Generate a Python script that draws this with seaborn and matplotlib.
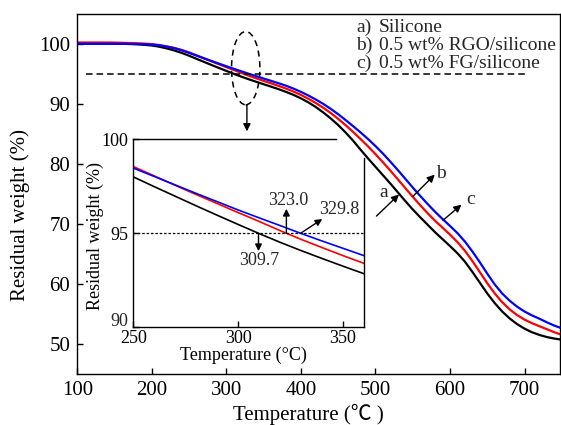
import matplotlib
matplotlib.use("Agg")
import matplotlib.pyplot as plt
from matplotlib.patches import Ellipse
import seaborn as sns
import pandas as pd

# Thermogravimetric curves (temperature in °C, residual weight in %)
temperature = [100, 110, 120, 130, 140, 150, 160, 170, 180, 190,
               200, 210, 220, 230, 240, 250, 260, 270, 280, 290,
               300, 310, 320, 330, 340, 350, 360, 370, 380, 390,
               400, 410, 420, 430, 440, 450, 460, 470, 480, 490,
               500, 510, 520, 530, 540, 550, 560, 570, 580, 590,
               600, 610, 620, 630, 640, 650, 660, 670, 680, 690,
               700, 710, 720, 730, 740, 748]
silicone = [100.0, 100.0, 100.0, 100.0, 100.0, 100.0, 99.98, 99.95, 99.9, 99.82,
            99.7, 99.5, 99.22, 98.88, 98.47, 98.0, 97.48, 96.97, 96.46, 95.96,
            95.47, 94.985, 94.52, 94.08, 93.66, 93.25, 92.85, 92.43, 91.98, 91.48,
            90.9, 90.23, 89.45, 88.55, 87.55, 86.45, 85.2, 83.85, 82.35, 80.9,
            79.5, 78.1, 76.7, 75.25, 73.8, 72.4, 71.1, 69.85, 68.6, 67.45,
            66.3, 65.1, 63.7, 62.0, 60.2, 58.4, 56.8, 55.4, 54.25, 53.3,
            52.55, 51.95, 51.5, 51.15, 50.9, 50.75]
rgo_silicone = [100.2, 100.2, 100.2, 100.2, 100.2, 100.18, 100.15, 100.12, 100.08, 100.02,
                99.93, 99.78, 99.56, 99.3, 98.97, 98.55, 98.05, 97.55, 97.06, 96.58,
                96.10, 95.63, 95.14, 94.675, 94.24, 93.81, 93.40, 92.98, 92.53, 92.03,
                91.47, 90.83, 90.12, 89.33, 88.45, 87.48, 86.42, 85.3, 84.12, 82.9,
                81.6, 80.25, 78.85, 77.4, 75.95, 74.5, 73.1, 71.75, 70.5, 69.35,
                68.2, 66.95, 65.5, 63.8, 61.95, 60.1, 58.4, 56.95, 55.75, 54.8,
                54.05, 53.45, 52.95, 52.45, 51.95, 51.6]
fg_silicone = [100.0, 100.0, 100.0, 100.0, 100.0, 100.0, 100.0, 99.98, 99.95, 99.92,
               99.85, 99.72, 99.52, 99.25, 98.9, 98.47, 98.02, 97.57, 97.12, 96.68,
               96.24, 95.82, 95.41, 94.99, 94.59, 94.20, 93.81, 93.42, 93.0, 92.52,
               91.98, 91.37, 90.7, 89.97, 89.15, 88.25, 87.28, 86.27, 85.22, 84.12,
               82.95, 81.7, 80.35, 78.95, 77.5, 76.05, 74.65, 73.3, 72.0, 70.8,
               69.65, 68.45, 67.05, 65.4, 63.6, 61.7, 59.9, 58.4, 57.2, 56.2,
               55.4, 54.75, 54.2, 53.6, 53.05, 52.7]

series_names = ["a) Silicone", "b) 0.5 wt% RGO/silicone", "c) 0.5 wt% FG/silicone"]
series_colors = ["#000000", "#ff0000", "#0000ff"]
onset_temps = [309.7, 323.0, 329.8]
threshold = 95

df = pd.DataFrame({
    "T": temperature * 3,
    "W": silicone + rgo_silicone + fg_silicone,
    "sample": [series_names[0]] * len(temperature)
              + [series_names[1]] * len(temperature)
              + [series_names[2]] * len(temperature),
})

sns.set_theme(style="ticks")
plt.rcParams["font.family"] = ["Liberation Serif", "Noto Sans CJK SC"]
plt.rcParams.update({
    "xtick.direction": "in", "ytick.direction": "in",
    "xtick.major.size": 4, "ytick.major.size": 4,
    "xtick.major.width": 1.0, "ytick.major.width": 1.0,
    "xtick.top": False, "ytick.right": False,
    "axes.linewidth": 1.0, "axes.edgecolor": "black",
    "xtick.color": "black", "ytick.color": "black",
})

fig = plt.figure(figsize=(5.61, 4.25), dpi=100)
ax = fig.add_axes([0.1378, 0.12, 0.8604, 0.8478])

palette = dict(zip(series_names, series_colors))
sns.lineplot(data=df, x="T", y="W", hue="sample", palette=palette, ax=ax,
             lw=1.6, legend=False, sort=False, estimator=None)

ax.set_xlim(100, 747.5)
ax.set_ylim(45, 105)
ax.set_xticks([100, 200, 300, 400, 500, 600, 700])
ax.set_yticks([50, 60, 70, 80, 90, 100])
ax.tick_params(labelsize=15, pad=5, colors="black")
ax.set_xlabel("Temperature (℃ )", fontsize=15, color="black")
ax.set_ylabel("Residual weight (%)", fontsize=15, color="black")
ax.xaxis.set_label_coords(0.478, -0.082)
ax.yaxis.set_label_coords(-0.098, 0.441)

# 95 % reference line
ax.plot([112, 700], [threshold, threshold], color="black", lw=1.1,
        linestyle=(0, (4.3, 2.6)))

# legend text
for name, y in zip(series_names, [102.0, 98.97, 95.9]):
    tag, rest = name.split(" ", 1)
    ax.text(474.5, y, tag, fontsize=14, va="baseline", ha="left")
    ax.text(504.8, y, rest, fontsize=14, va="baseline", ha="left")

# zoom marker
ax.add_patch(Ellipse((325.9, 95.93), 38, 12.2, fill=False, edgecolor="black",
                     lw=1.1, linestyle=(0, (4, 3))))
arrow = dict(arrowstyle="-|>", color="black", lw=1.0, mutation_scale=11,
             shrinkA=0, shrinkB=0)
ax.annotate("", xy=(327.5, 85.4), xytext=(327.5, 89.8), arrowprops=arrow)

# curve labels
ax.annotate("", xy=(531.6, 74.9), xytext=(501.3, 71.3), arrowprops=arrow)
ax.text(511.1, 75.2, "a", fontsize=14, ha="center", va="center")
ax.annotate("", xy=(579.5, 78.2), xytext=(550.4, 74.6), arrowprops=arrow)
ax.text(587.6, 78.4, "b", fontsize=14, ha="center", va="center")
ax.annotate("", xy=(615.3, 73.2), xytext=(590.6, 70.6), arrowprops=arrow)
ax.text(627.4, 74.0, "c", fontsize=14, ha="center", va="center")

# inset
axin = fig.add_axes([0.2376, 0.2299, 0.4112, 0.4424])
axin.set_facecolor("none")
sub = df[(df["T"] >= 250) & (df["T"] <= 360)]
sns.lineplot(data=sub, x="T", y="W", hue="sample", palette=palette, ax=axin,
             lw=1.2, legend=False, sort=False, estimator=None)
axin.set_xlim(250, 360)
axin.set_ylim(90, 100)
axin.set_xticks([250, 300, 350])
axin.set_yticks([90, 95, 100])
axin.set_yticklabels(["", "95", "100"])
axin.tick_params(axis="y", labelsize=13, pad=3.5, colors="black")
axin.tick_params(axis="x", labelsize=13, pad=2.0, colors="black")
axin.annotate("90", xy=(250, 90), xytext=(-3.5, 4), textcoords="offset points",
              ha="right", va="center", fontsize=13)
axin.spines["top"].set_bounds(250, 346.8)
axin.spines["right"].set_bounds(90, 99.0)
axin.set_xlabel("Temperature (°C)", fontsize=13, color="black")
axin.set_ylabel("Residual weight (%)", fontsize=13, color="black")
axin.xaxis.set_label_coords(0.477, -0.105)
axin.yaxis.set_label_coords(-0.127, 0.486)
axin.plot([250, 360], [threshold, threshold], color="black", lw=0.9,
          linestyle=(0, (2, 1.5)))

small_arrow = dict(arrowstyle="-|>", color="black", lw=1.0, mutation_scale=10,
                   shrinkA=0, shrinkB=0)
axin.annotate("", xy=(onset_temps[0], 94.05), xytext=(onset_temps[0], threshold),
              arrowprops=small_arrow)
axin.text(310.2, 93.56, f"{onset_temps[0]:.1f}", fontsize=13, ha="center", va="center")
axin.annotate("", xy=(onset_temps[1], 96.3), xytext=(onset_temps[1], threshold),
              arrowprops=small_arrow)
axin.text(323.7, 96.75, f"{onset_temps[1]:.1f}", fontsize=13, ha="center", va="center")
axin.annotate("", xy=(340.1, 95.76), xytext=(onset_temps[2], threshold),
              arrowprops=small_arrow)
axin.text(348.1, 96.27, f"{onset_temps[2]:.1f}", fontsize=13, ha="center", va="center")

fig.savefig("out.png", dpi=100, facecolor="white")
